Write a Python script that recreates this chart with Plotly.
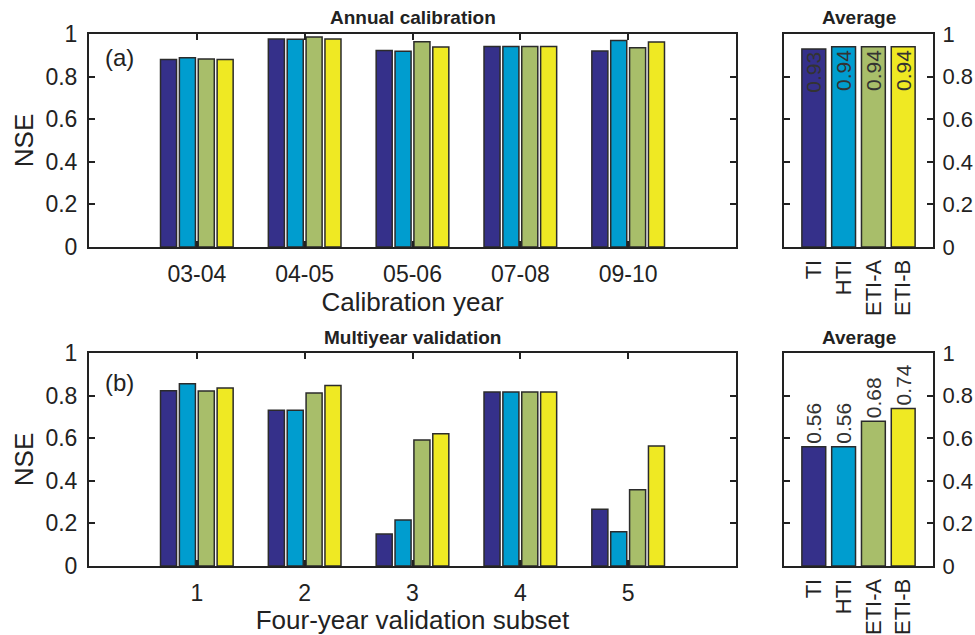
import plotly.graph_objects as go

# NSE scores per model
models = ["TI", "HTI", "ETI-A", "ETI-B"]
colors = ["#35308A", "#009DCF", "#A8BE6A", "#EFE923"]

calib_years = ["03-04", "04-05", "05-06", "07-08", "09-10"]
calib_ti = [0.880, 0.977, 0.922, 0.941, 0.920]
calib_hti = [0.889, 0.975, 0.919, 0.941, 0.970]
calib_eti_a = [0.883, 0.986, 0.964, 0.941, 0.936]
calib_eti_b = [0.880, 0.977, 0.939, 0.941, 0.962]
calib_avg = [0.93, 0.94, 0.94, 0.94]

valid_subsets = ["1", "2", "3", "4", "5"]
valid_ti = [0.823, 0.731, 0.150, 0.817, 0.266]
valid_hti = [0.856, 0.731, 0.216, 0.817, 0.161]
valid_eti_a = [0.822, 0.812, 0.592, 0.817, 0.358]
valid_eti_b = [0.836, 0.848, 0.621, 0.817, 0.563]
valid_avg = [0.56, 0.56, 0.68, 0.74]

W, H = 975, 635
FONT = "Liberation Sans, Arial, sans-serif"
INK = "#222222"
EDGE = "#2b2b2b"


def px_x(x0, x1):
    return [x0 / W, x1 / W]


def px_y(top, bottom):
    return [1 - bottom / H, 1 - top / H]


fig = go.Figure()

calib_series = [calib_ti, calib_hti, calib_eti_a, calib_eti_b]
valid_series = [valid_ti, valid_hti, valid_eti_a, valid_eti_b]

for name, col, vals in zip(models, colors, calib_series):
    fig.add_trace(go.Bar(x=calib_years, y=vals, name=name, marker_color=col,
                         marker_line=dict(color=EDGE, width=1.5),
                         xaxis="x", yaxis="y", showlegend=False))
for name, col, vals in zip(models, colors, valid_series):
    fig.add_trace(go.Bar(x=valid_subsets, y=vals, name=name, marker_color=col,
                         marker_line=dict(color=EDGE, width=1.5),
                         xaxis="x3", yaxis="y3", showlegend=False))

# Average panels
fig.add_trace(go.Bar(x=models, y=calib_avg, marker_color=colors, width=0.8,
                     marker_line=dict(color=EDGE, width=1.5),
                     text=[f"{v:.2f}" for v in calib_avg], textposition="inside",
                     insidetextanchor="end", textangle=-90, constraintext="none",
                     insidetextfont=dict(family=FONT, size=21, color="#333333"),
                     xaxis="x2", yaxis="y2", showlegend=False))
fig.add_trace(go.Bar(x=models, y=valid_avg, marker_color=colors, width=0.8,
                     marker_line=dict(color=EDGE, width=1.5),
                     text=[f"{v:.2f}" for v in valid_avg], textposition="outside",
                     textangle=-90, constraintext="none", cliponaxis=False,
                     outsidetextfont=dict(family=FONT, size=21, color="#333333"),
                     xaxis="x4", yaxis="y4", showlegend=False))

axis_common = dict(showline=True, linecolor=INK, linewidth=2, mirror="ticks",
                   ticks="inside", tickcolor=INK, tickwidth=1.5,
                   showgrid=False, zeroline=False, automargin=False,
                   tickfont=dict(family=FONT, size=23, color=INK))
small_font = dict(family=FONT, size=22, color=INK)

yvals = [0, 0.2, 0.4, 0.6, 0.8, 1]
ytext = ["0", "0.2", "0.4", "0.6", "0.8", "1"]

left_dom = px_x(89, 736)
right_dom = px_x(784, 933)
top_dom = px_y(34, 247)
bot_dom = px_y(353, 566)

fig.update_layout(
    width=W, height=H,
    margin=dict(l=0, r=0, t=0, b=0),
    paper_bgcolor="white", plot_bgcolor="white",
    barmode="group", bargap=0.3, bargroupgap=0.15,
    font=dict(family=FONT, color=INK),
    xaxis=dict(axis_common, type="category", domain=left_dom, anchor="y", range=[-1, 5],
               ticklen=6, ticklabelstandoff=5,
               title=dict(text="Calibration year", standoff=0,
                          font=dict(family=FONT, size=26, color=INK))),
    yaxis=dict(axis_common, domain=top_dom, anchor="x", range=[0, 1],
               tickvals=yvals, ticktext=ytext, ticklen=6, ticklabelstandoff=5,
               title=dict(text="NSE", standoff=4,
                          font=dict(family=FONT, size=26, color=INK))),
    xaxis2=dict(axis_common, type="category", domain=right_dom, anchor="y2", range=[-1, 4],
                ticks="", tickangle=-90, ticklabelstandoff=2, tickfont=small_font),
    yaxis2=dict(axis_common, domain=top_dom, anchor="x2", range=[0, 1], side="right",
                tickvals=yvals, ticktext=ytext, ticklen=6, ticklabelstandoff=3,
                tickfont=small_font),
    xaxis3=dict(axis_common, type="category", domain=left_dom, anchor="y3", range=[-1, 5],
                ticklen=6, ticklabelstandoff=5,
                title=dict(text="Four-year validation subset", standoff=0,
                           font=dict(family=FONT, size=26, color=INK))),
    yaxis3=dict(axis_common, domain=bot_dom, anchor="x3", range=[0, 1],
                tickvals=yvals, ticktext=ytext, ticklen=6, ticklabelstandoff=5,
                title=dict(text="NSE", standoff=4,
                           font=dict(family=FONT, size=26, color=INK))),
    xaxis4=dict(axis_common, type="category", domain=right_dom, anchor="y4", range=[-1, 4],
                ticks="", tickangle=-90, ticklabelstandoff=2, tickfont=small_font),
    yaxis4=dict(axis_common, domain=bot_dom, anchor="x4", range=[0, 1], side="right",
                tickvals=yvals, ticktext=ytext, ticklen=6, ticklabelstandoff=3,
                tickfont=small_font),
)

titles = [
    ("Annual calibration", (89 + 736) / 2, 18),
    ("Average", (784 + 933) / 2, 18),
    ("Multiyear validation", (89 + 736) / 2, 337),
    ("Average", (784 + 933) / 2, 337),
]
for text, cx, cy in titles:
    fig.add_annotation(text=f"<b>{text}</b>", x=cx / W, y=1 - cy / H,
                       xref="paper", yref="paper", showarrow=False,
                       xanchor="center", yanchor="middle",
                       font=dict(family=FONT, size=19, color=INK))

for text, cy in [("(a)", 58), ("(b)", 383)]:
    fig.add_annotation(text=text, x=103 / W, y=1 - cy / H,
                       xref="paper", yref="paper", showarrow=False,
                       xanchor="left", yanchor="middle",
                       font=dict(family=FONT, size=24, color=INK))

fig.write_html("out.html")
